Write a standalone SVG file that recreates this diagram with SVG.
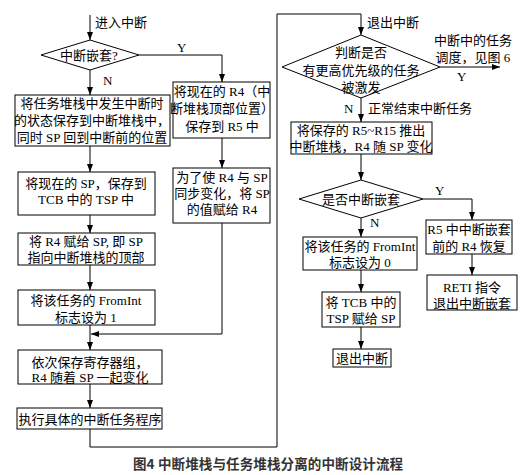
<svg xmlns="http://www.w3.org/2000/svg" width="527" height="475" viewBox="0 0 527 475">
<style>
.b{fill:#fff;stroke:#000;stroke-width:1}
.c{fill:none;stroke:#000;stroke-width:1}
text{font-family:"Liberation Serif","Noto Sans CJK SC",serif;font-size:13px;fill:#000;dominant-baseline:central}
.m{text-anchor:middle}
.cap{font-family:"Noto Sans CJK SC",sans-serif;font-weight:bold;font-size:13.5px;fill:#333}
</style>
<defs>
<marker id="a" markerUnits="userSpaceOnUse" markerWidth="8" markerHeight="6" refX="8" refY="3" orient="auto"><path d="M0,0 L8,3 L0,6 z" fill="#000"/></marker>
</defs>
<rect width="527" height="475" fill="#fff"/>
<g id="connectors" class="c" marker-end="url(#a)">
<line x1="90" y1="15" x2="90" y2="40"/>
<polyline points="139,55 222,55 222,82"/>
<line x1="90" y1="70" x2="90" y2="95"/>
<line x1="90" y1="146" x2="90" y2="172"/>
<line x1="222" y1="138" x2="222" y2="168"/>
<line x1="90" y1="215" x2="90" y2="233"/>
<line x1="90" y1="265" x2="90" y2="290"/>
<polyline points="222,223 222,334 91,334"/>
<line x1="90" y1="325" x2="90" y2="350"/>
<line x1="90" y1="384" x2="90" y2="408"/>
<polyline points="90,429 90,447 277,447 277,14 361,14 361,35"/>
<line x1="440" y1="67" x2="500" y2="67"/>
<line x1="361" y1="98" x2="361" y2="122"/>
<line x1="361" y1="154" x2="361" y2="180"/>
<polyline points="423,199 472,199 472,220"/>
<line x1="361" y1="218" x2="361" y2="237"/>
<line x1="472" y1="254" x2="472" y2="275"/>
<line x1="361" y1="270" x2="361" y2="292"/>
<line x1="361" y1="327" x2="361" y2="349"/>
</g>
<g id="labels">
<text x="95" y="22">进入中断</text>
<text x="177" y="47">Y</text>
<text x="103" y="80">N</text>
<text x="367" y="22">退出中断</text>
<text x="473" y="40" class="m">中断中的任务</text>
<text x="473" y="57" class="m">调度，见图 6</text>
<text x="457" y="76">Y</text>
<text x="344" y="108">N</text>
<text x="368" y="108">正常结束中断任务</text>
<text x="435" y="190">Y</text>
<text x="370" y="222">N</text>
</g>
<g id="d1"><polygon class="b" points="41,55 90,40 139,55 90,70"/><text x="89" y="55" class="m">中断嵌套?</text></g>
<g id="b1"><rect class="b" x="15" y="95" width="155" height="51"/>
<text x="92" y="103" class="m">将任务堆栈中发生中断时</text>
<text x="92" y="120" class="m">的状态保存到中断堆栈中，</text>
<text x="92" y="137" class="m">同时 SP 回到中断前的位置</text></g>
<g id="b2"><rect class="b" x="18" y="172" width="137" height="43"/>
<text x="86" y="183" class="m">将现在的 SP，保存到</text>
<text x="86" y="199" class="m">TCB 中的 TSP 中</text></g>
<g id="b3"><rect class="b" x="18" y="233" width="137" height="32"/>
<text x="86" y="241" class="m">将 R4 赋给 SP, 即 SP</text>
<text x="86" y="257" class="m">指向中断堆栈的顶部</text></g>
<g id="b4"><rect class="b" x="18" y="290" width="137" height="35"/>
<text x="86" y="300" class="m">将该任务的 FromInt</text>
<text x="86" y="317" class="m">标志设为 1</text></g>
<g id="b5"><rect class="b" x="18" y="350" width="144" height="34"/>
<text x="90" y="362" class="m">依次保存寄存器组，</text>
<text x="90" y="377" class="m">R4 随着 SP 一起变化</text></g>
<g id="b6"><rect class="b" x="17" y="408" width="145" height="21"/>
<text x="90" y="419" class="m">执行具体的中断任务程序</text></g>
<g id="r1"><rect class="b" x="173" y="82" width="97" height="56"/>
<text x="222" y="91" class="m">将现在的 R4（中</text>
<text x="222" y="108" class="m">断堆栈顶部位置）</text>
<text x="222" y="126" class="m">保存到 R5 中</text></g>
<g id="r2"><rect class="b" x="173" y="168" width="97" height="55"/>
<text x="222" y="177" class="m">为了使 R4 与 SP</text>
<text x="222" y="193" class="m">同步变化，将 SP</text>
<text x="222" y="209" class="m">的值赋给 R4</text></g>
<g id="d2"><polygon class="b" points="282,67 361,35 440,67 361,98"/>
<text x="361" y="52" class="m">判断是否</text>
<text x="361" y="70" class="m">有更高优先级的任务</text>
<text x="361" y="87" class="m">被激发</text></g>
<g id="c1"><rect class="b" x="291" y="122" width="141" height="32"/>
<text x="361" y="130" class="m">将保存的 R5~R15 推出</text>
<text x="361" y="146" class="m">中断堆栈，R4 随 SP 变化</text></g>
<g id="d3"><polygon class="b" points="299,199 361,180 423,199 361,218"/><text x="361" y="199" class="m">是否中断嵌套</text></g>
<g id="c2"><rect class="b" x="303" y="237" width="114" height="33"/>
<text x="360" y="246" class="m">将该任务的 FromInt</text>
<text x="360" y="262" class="m">标志设为 0</text></g>
<g id="c3"><rect class="b" x="426" y="220" width="86" height="34"/>
<text x="469" y="229" class="m">R5 中中断嵌套</text>
<text x="469" y="246" class="m">前的 R4 恢复</text></g>
<g id="c4"><rect class="b" x="427" y="275" width="90" height="35"/>
<text x="472" y="287" class="m">RETI 指令</text>
<text x="472" y="303" class="m">退出中断嵌套</text></g>
<g id="c5"><rect class="b" x="322" y="292" width="78" height="35"/>
<text x="361" y="302" class="m">将 TCB 中的</text>
<text x="361" y="318" class="m">TSP 赋给 SP</text></g>
<g id="c6"><rect class="b" x="333" y="349" width="58" height="18"/>
<text x="362" y="358" class="m">退出中断</text></g>
<text x="133" y="463" class="cap" textLength="270" lengthAdjust="spacing">图4 中断堆栈与任务堆栈分离的中断设计流程</text>
</svg>
